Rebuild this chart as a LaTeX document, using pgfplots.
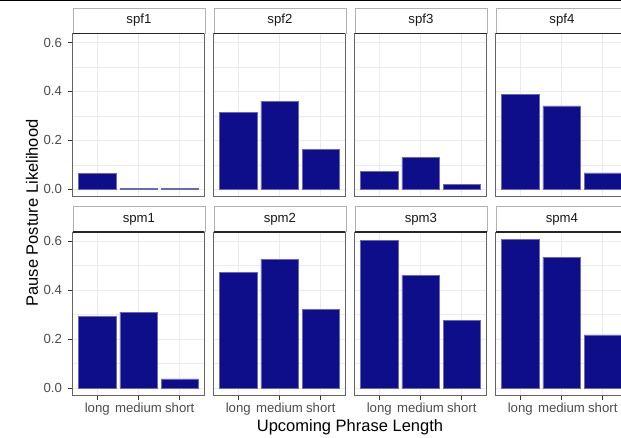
\documentclass[border=0pt]{standalone}
\usepackage{pgfplots}
\pgfplotsset{compat=1.18}
\usepackage{fontspec}
\setmainfont{Liberation Sans}
\definecolor{barfill}{RGB}{14,14,138}
\definecolor{baredge}{RGB}{105,105,185}
\definecolor{gridc}{RGB}{235,235,235}
\definecolor{g30}{RGB}{77,77,77}
\definecolor{g20}{RGB}{51,51,51}
\definecolor{border}{RGB}{100,100,100}
\newcommand{\tickfont}{\fontsize{13.2bp}{15bp}\selectfont}
\newcommand{\titlefont}{\fontsize{16.5bp}{19bp}\selectfont}
\pgfplotsset{
  panel/.style={
    scale only axis, width=132bp, height=163.5bp,
    xmin=0.4, xmax=3.6, ymin=-0.0304, ymax=0.6374,
    xtick={1,2,3}, ytick={0,0.2,0.4,0.6}, minor ytick={0.1,0.3,0.5},
    grid=both,
    major grid style={gridc, line width=1.1bp},
    minor grid style={gridc, line width=0.55bp},
    axis line style={border, line width=0.9bp},
    major tick length=4.1bp, minor tick length=0pt,
    xtick style={draw=none}, ytick style={draw=none},
    tick align=outside, xtick pos=bottom, ytick pos=left,
    xticklabels={}, yticklabels={},
    ybar, bar width=0.9, bar shift=0pt,
    every axis plot post/.append style={fill=barfill, draw=baredge, line width=0.5bp},
  },
  leftcol/.style={
    yticklabels={0.0,0.2,0.4,0.6},
    ytick style={draw=g20, line width=0.8bp},
    yticklabel style={font=\tickfont, text=g30, xshift=-3bp},
  },
  bottomrow/.style={
    xticklabels={long,medium,short},
    xtick style={draw=g20, line width=0.8bp},
    xticklabel style={font=\tickfont, text=g30},
  },
}
\newcommand{\strip}[2]{%
  \node[draw=gray!60, fill=white, line width=0.8bp, minimum width=132bp, minimum height=25bp,
        inner sep=0pt, anchor=south west, font=\tickfont, text=black!90] at (#1.north west) {#2};
  \draw[line width=1.1bp, black!85] (#1.north west) -- (#1.north east);
}
\begin{document}
\begin{tikzpicture}
\useasboundingbox (0,0) rectangle (621bp,-438bp);
\clip (0,0) rectangle (621bp,-438bp);
\fill[white] (0,0) rectangle (621bp,-438bp);
\draw[line width=1.3bp, black] (0,-0.5bp) -- (621bp,-0.5bp);

% top row
\begin{axis}[panel, leftcol, name=p1, at={(72.5bp,-33.3bp)}, anchor=north west]
\addplot coordinates {(1,0.064) (2,0.003) (3,0.003)};
\end{axis}
\begin{axis}[panel, name=p2, at={(213.5bp,-33.3bp)}, anchor=north west]
\addplot coordinates {(1,0.313) (2,0.359) (3,0.162)};
\end{axis}
\begin{axis}[panel, name=p3, at={(354.5bp,-33.3bp)}, anchor=north west]
\addplot coordinates {(1,0.072) (2,0.131) (3,0.021)};
\end{axis}
\begin{axis}[panel, name=p4, at={(495.5bp,-33.3bp)}, anchor=north west]
\addplot coordinates {(1,0.387) (2,0.341) (3,0.067)};
\end{axis}

% bottom row
\begin{axis}[panel, leftcol, bottomrow, name=q1, at={(72.5bp,-232bp)}, anchor=north west]
\addplot coordinates {(1,0.293) (2,0.310) (3,0.038)};
\end{axis}
\begin{axis}[panel, bottomrow, name=q2, at={(213.5bp,-232bp)}, anchor=north west]
\addplot coordinates {(1,0.471) (2,0.527) (3,0.321)};
\end{axis}
\begin{axis}[panel, bottomrow, name=q3, at={(354.5bp,-232bp)}, anchor=north west]
\addplot coordinates {(1,0.603) (2,0.460) (3,0.275)};
\end{axis}
\begin{axis}[panel, bottomrow, name=q4, at={(495.5bp,-232bp)}, anchor=north west]
\addplot coordinates {(1,0.607) (2,0.535) (3,0.217)};
\end{axis}

\strip{p1}{spf1}\strip{p2}{spf2}\strip{p3}{spf3}\strip{p4}{spf4}
\strip{q1}{spm1}\strip{q2}{spm2}\strip{q3}{spm3}\strip{q4}{spm4}

\node[font=\titlefont, text=black] at (350bp,-427bp) {Upcoming Phrase Length};
\node[font=\titlefont, text=black, rotate=90] at (32bp,-213bp) {Pause Posture Likelihood};
\end{tikzpicture}
\end{document}
